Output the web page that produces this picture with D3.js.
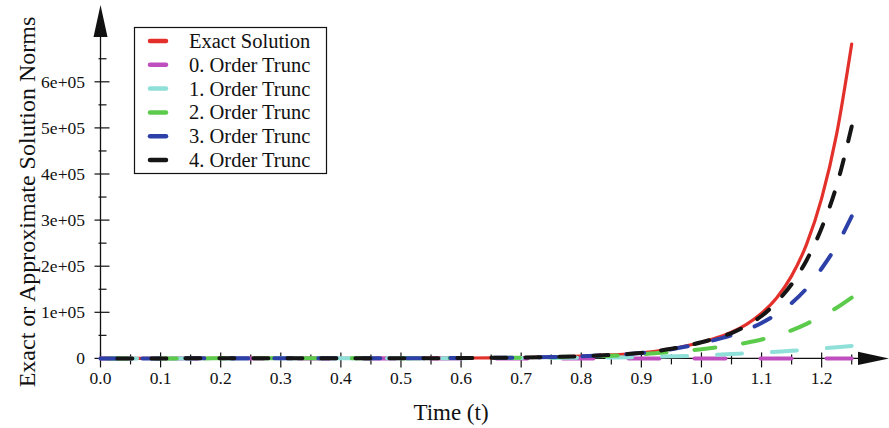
<!DOCTYPE html>
<html>
<head>
<meta charset="utf-8">
<script src="https://cdn.jsdelivr.net/npm/d3@7"></script>
<style>
  body { margin: 0; background: #fff; }
  text { font-family: "Liberation Serif", "Times New Roman", serif; fill: #111; }
</style>
</head>
<body>
<div id="graph"></div>
<script>
// time samples
const times = [0, 0.05, 0.1, 0.15, 0.2, 0.25, 0.3, 0.35, 0.4, 0.45, 0.5, 0.55, 0.6, 0.65, 0.7,
  0.75, 0.8, 0.85, 0.9, 0.95, 1.0, 1.025, 1.05, 1.075, 1.1, 1.125, 1.15, 1.175, 1.2, 1.225, 1.25];

const exact = [10, 20, 40, 60, 80, 110, 140, 180, 230, 300, 400, 520, 800, 1200, 1900,
  3000, 4800, 7500, 12000, 21000, 35000, 44500, 57000, 74000, 98000, 131000, 179000, 248000, 347000, 487000, 682000];
const order0 = [1, 1, 1, 1, 1, 1, 1, 1, 1, 1, 1, 1, 1, 1, 1,
  1, 1, 1, 1, 1, 1, 1, 1, 1, 1, 1, 1, 1, 1, 1, 1];
const order1 = [5, 10, 15, 25, 35, 50, 70, 100, 140, 190, 250, 330, 430, 600, 800,
  1100, 1500, 2000, 3000, 4500, 6500, 8000, 9500, 11000, 12500, 14500, 16500, 19000, 21500, 24000, 27000];
const order2 = [10, 15, 30, 45, 60, 90, 120, 160, 210, 280, 370, 500, 700, 1000, 1500,
  2500, 4000, 6000, 9000, 14000, 20000, 24000, 28000, 34000, 41000, 50000, 61000, 75000, 92000, 110000, 132000];
const order3 = [10, 20, 40, 60, 80, 110, 140, 180, 230, 300, 400, 520, 780, 1150, 1800,
  2900, 4600, 7200, 11500, 20000, 33000, 41000, 50000, 62000, 77000, 96000, 120000, 152000, 195000, 245000, 308000];
const order4 = [10, 20, 40, 60, 80, 110, 140, 180, 230, 300, 400, 520, 800, 1200, 1900,
  3000, 4800, 7500, 12000, 21000, 35000, 44000, 55000, 71000, 92000, 122000, 161000, 213000, 283000, 375000, 503000];

const seriesNames = ["Exact Solution", "0. Order Trunc", "1. Order Trunc", "2. Order Trunc", "3. Order Trunc", "4. Order Trunc"];
const seriesValues = [exact, order0, order1, order2, order3, order4];

const xMajorTicks = [0, 0.1, 0.2, 0.3, 0.4, 0.5, 0.6, 0.7, 0.8, 0.9, 1.0, 1.1, 1.2];
const xMinorTicks = [0.05, 0.15, 0.25, 0.35, 0.45, 0.55, 0.65, 0.75, 0.85, 0.95, 1.05, 1.15, 1.25];
const yMajorTicks = [0, 100000, 200000, 300000, 400000, 500000, 600000];
const yMinorTicks = [50000, 150000, 250000, 350000, 450000, 550000, 650000];
const yTickLabels = ["0", "1e+05", "2e+05", "3e+05", "4e+05", "5e+05", "6e+05"];

// styles per series
const colors = ["#e3302a", "#bf4fbf", "#8fe0d9", "#5ccb4b", "#2c40a8", "#151515"];
const dashes = [null, [31, 35], [25, 30], [21, 28], [18, 26], [15, 19]];
const endOnDash = [false, false, true, true, true, true];

const W = 889, H = 428;
const svg = d3.select("#graph").append("svg")
  .attr("width", W).attr("height", H);

const x = d3.scaleLinear().domain([0, 1.25]).range([100.5, 851.7]);
const y = d3.scaleLinear().domain([0, 600000]).range([358.4, 81.8]);

const axisColor = "#111";

// x axis line + arrow
svg.append("line")
  .attr("x1", x(0)).attr("x2", 860).attr("y1", y(0)).attr("y2", y(0))
  .attr("stroke", axisColor).attr("stroke-width", 1.3);
svg.append("path")
  .attr("d", `M858,${y(0) - 6.7}L889,${y(0)}L858,${y(0) + 6.7}Z`)
  .attr("fill", axisColor);

// y axis line + arrow
svg.append("line")
  .attr("x1", x(0)).attr("x2", x(0)).attr("y1", y(0)).attr("y2", 30)
  .attr("stroke", axisColor).attr("stroke-width", 1.3);
svg.append("path")
  .attr("d", `M${x(0) - 7},37L${x(0)},5L${x(0) + 7},37Z`)
  .attr("fill", axisColor);

// x ticks
svg.append("g").selectAll("line").data(xMajorTicks).join("line")
  .attr("x1", d => x(d)).attr("x2", d => x(d))
  .attr("y1", y(0) - 6).attr("y2", y(0) + 9)
  .attr("stroke", axisColor).attr("stroke-width", 1.2);
svg.append("g").selectAll("line").data(xMinorTicks).join("line")
  .attr("x1", d => x(d)).attr("x2", d => x(d))
  .attr("y1", y(0) - 4).attr("y2", y(0) + 6)
  .attr("stroke", axisColor).attr("stroke-width", 1.2);
svg.append("g").selectAll("text").data(xMajorTicks).join("text")
  .attr("x", d => x(d)).attr("y", 384)
  .attr("text-anchor", "middle")
  .style("font-size", "17.5px")
  .text(d => d3.format(".1f")(d));

// y ticks
svg.append("g").selectAll("line").data(yMajorTicks).join("line")
  .attr("x1", x(0) - 6).attr("x2", x(0) + 9)
  .attr("y1", d => y(d)).attr("y2", d => y(d))
  .attr("stroke", axisColor).attr("stroke-width", 1.2);
svg.append("g").selectAll("line").data(yMinorTicks).join("line")
  .attr("x1", x(0) - 2).attr("x2", x(0) + 6)
  .attr("y1", d => y(d)).attr("y2", d => y(d))
  .attr("stroke", axisColor).attr("stroke-width", 1.2);
svg.append("g").selectAll("text").data(yMajorTicks).join("text")
  .attr("x", 85).attr("y", d => y(d) + 6)
  .attr("text-anchor", "end")
  .style("font-size", "17.5px")
  .text((d, i) => yTickLabels[i]);

// axis titles
svg.append("text")
  .attr("x", 451).attr("y", 420)
  .attr("text-anchor", "middle")
  .style("font-size", "23px")
  .text("Time (t)");
svg.append("text")
  .attr("transform", "translate(35,202)rotate(-90)")
  .attr("text-anchor", "middle")
  .style("font-size", "24px")
  .text("Exact or Approximate Solution Norms");

// curves
const line = d3.line()
  .x(d => x(d[0]))
  .y(d => y(d[1]))
  .curve(d3.curveMonotoneX);

seriesValues.forEach((vals, i) => {
  const path = svg.append("path")
    .datum(times.map((t, j) => [t, vals[j]]))
    .attr("fill", "none")
    .attr("stroke", colors[i])
    .attr("stroke-width", i === 0 ? 3.2 : 4)
    .attr("stroke-linecap", "round")
    .attr("d", line);
  if (dashes[i]) {
    path.attr("stroke-dasharray", dashes[i].join(","));
    if (endOnDash[i]) {
      // shift the pattern so the last dash reaches the end of the curve
      const L = path.node().getTotalLength();
      const period = dashes[i][0] + dashes[i][1];
      const off = (((dashes[i][0] - L) % period) + period) % period;
      path.attr("stroke-dashoffset", off);
    }
  }
});

// legend
const legend = svg.append("g");
legend.append("rect")
  .attr("x", 134.5).attr("y", 27.5).attr("width", 192).attr("height", 146)
  .attr("fill", "#fff").attr("stroke", "#111").attr("stroke-width", 1.2);
seriesNames.forEach((name, i) => {
  const cy = 41 + i * 23.8;
  legend.append("line")
    .attr("x1", 150).attr("x2", 166).attr("y1", cy).attr("y2", cy)
    .attr("stroke", colors[i]).attr("stroke-width", 4.5)
    .attr("stroke-linecap", "round");
  legend.append("text")
    .attr("x", 189).attr("y", cy + 7)
    .style("font-size", "20.5px")
    .text(name);
});
</script>
</body>
</html>
